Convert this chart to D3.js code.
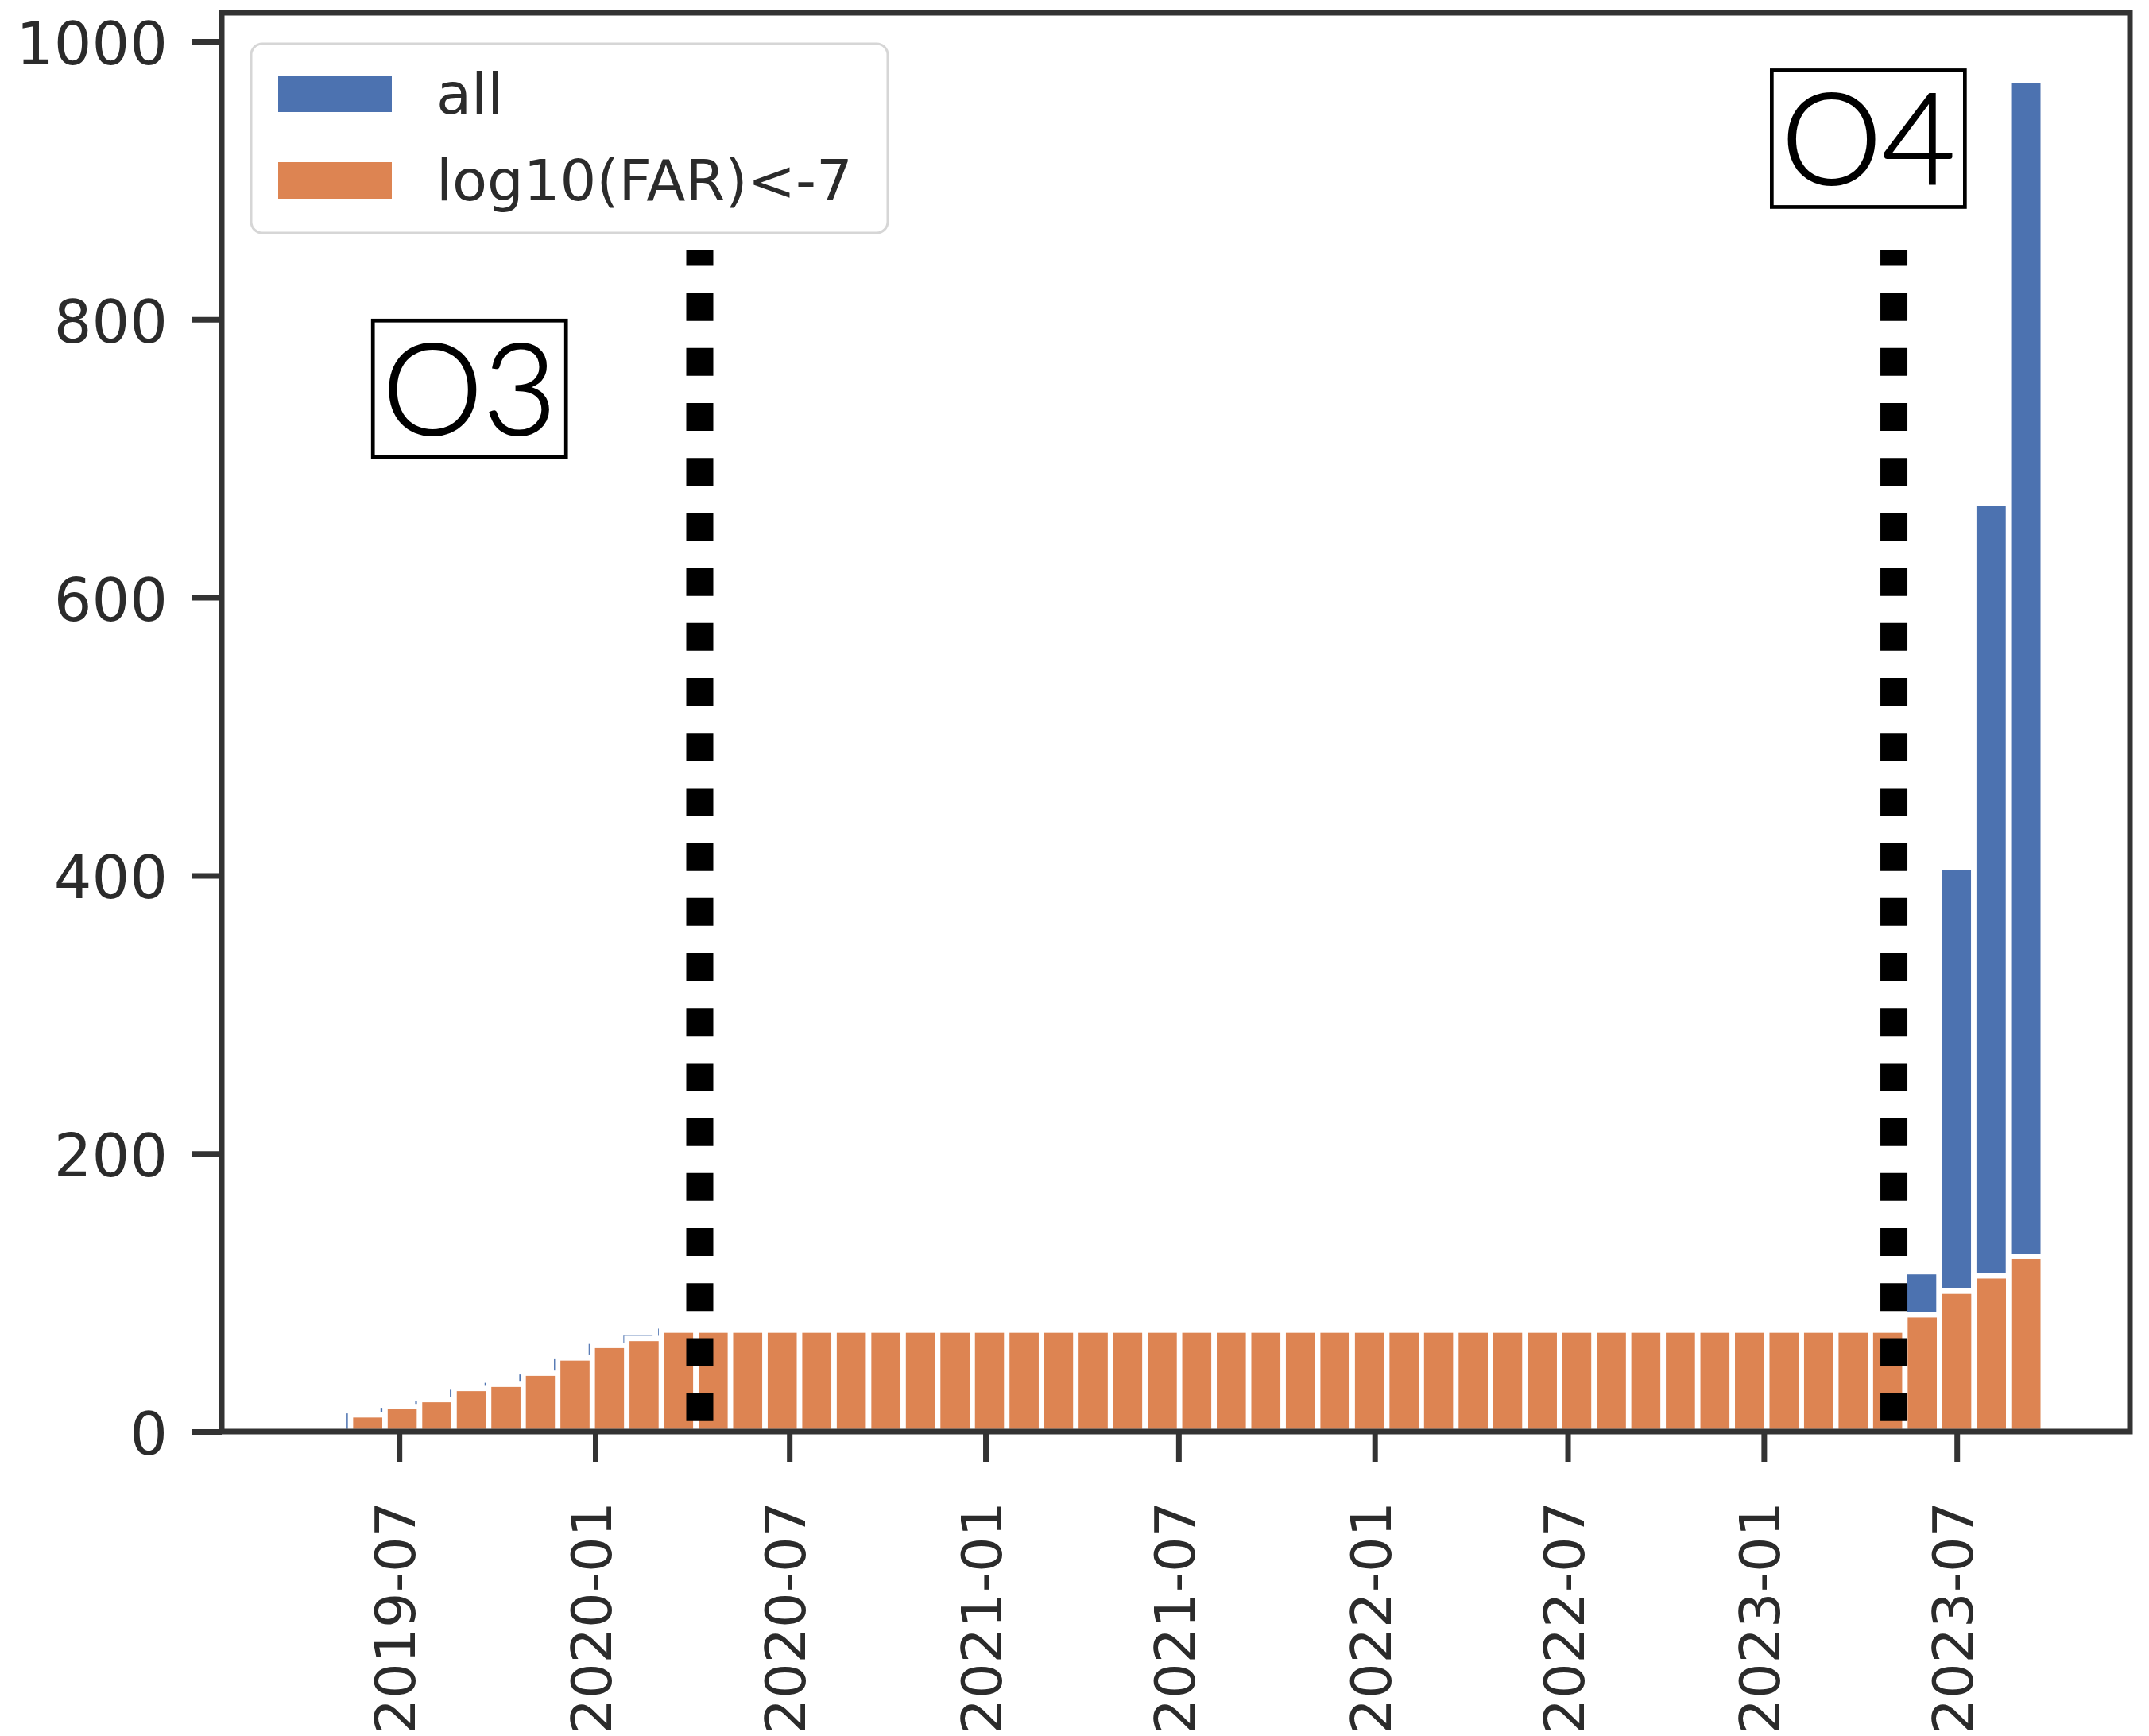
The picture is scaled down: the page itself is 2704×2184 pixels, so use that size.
<!DOCTYPE html>
<html>
<head>
<meta charset="utf-8">
<script src="https://cdn.jsdelivr.net/npm/d3@7"></script>
<style>
    body { margin: 0; background: #fff; }
    svg { display: block; }
</style>
</head>
<body>
<svg width="2704" height="2184"></svg>
<script>
// cumulative event counts, 50 bins each
var seriesNames = ['all', 'log10(FAR)<-7'];
var allRange = ['2019-04-07', '2023-09-20'];
var farRange = ['2019-04-14', '2023-09-20'];
var allCounts = [0, 15, 19, 24, 32, 37, 43, 54, 65, 71,
    76, 76, 76, 76, 76, 76, 76, 76, 76, 76,
    76, 76, 76, 76, 76, 76, 76, 76, 76, 76,
    76, 76, 76, 76, 76, 76, 76, 76, 76, 76,
    76, 76, 76, 76, 76, 76, 115, 406, 668, 972];
var farCounts = [0, 12, 18, 23, 31, 34, 42, 53, 62, 67,
    73, 73, 73, 73, 73, 73, 73, 73, 73, 73,
    73, 73, 73, 73, 73, 73, 73, 73, 73, 73,
    73, 73, 73, 73, 73, 73, 73, 73, 73, 73,
    73, 73, 73, 73, 73, 73, 84, 101, 112, 126];
var yTicks = [0, 200, 400, 600, 800, 1000];
var runBounds = ['2020-04-08', '2023-05-03'];
var runLabels = [
    {text: 'O3', date: '2019-09-05', value: 750},
    {text: 'O4', date: '2023-04-09', value: 930}
];
var runLineTop = 850;

(() => {
    var width = 2704;
    var height = 2184;
    var margin = {top: 16, bottom: 383, left: 279, right: 24};
    var colors = ['#4c72b0', '#dd8452'];
    var ink = '#2b2b2b';
    var tickFont = 'DejaVu Sans';

    var parse = d3.timeParse('%Y-%m-%d');

    function makeBins(range, counts) {
        var t0 = parse(range[0]).getTime();
        var t1 = parse(range[1]).getTime();
        var n = counts.length;
        return counts.map(function (c, i) {
            return {
                x0: new Date(t0 + (t1 - t0) * i / n),
                x1: new Date(t0 + (t1 - t0) * (i + 1) / n),
                value: c
            };
        });
    }
    var series = [makeBins(allRange, allCounts), makeBins(farRange, farCounts)];

    //scales (matplotlib-like 5% margin on x, 5% headroom on y)
    var lo = d3.min([parse(allRange[0]), parse(farRange[0])]);
    var hi = d3.max([parse(allRange[1]), parse(farRange[1])]);
    var pad = (hi - lo) * 0.05;
    var xScale = d3.scaleTime()
        .domain([new Date(+lo - pad), new Date(+hi + pad)])
        .range([margin.left, width - margin.right]);
    var yMax = d3.max(allCounts.concat(farCounts)) * 1.05;
    var yScale = d3.scaleLinear()
        .domain([0, yMax])
        .range([height - margin.bottom, margin.top]);

    var svg = d3.select('svg');

    //bars, "all" behind
    series.forEach(function (bins, k) {
        svg.append('g')
            .selectAll('rect')
            .data(bins)
            .enter().append('rect')
            .attr('x', d => xScale(d.x0))
            .attr('width', d => xScale(d.x1) - xScale(d.x0))
            .attr('y', d => yScale(d.value))
            .attr('height', d => yScale(0) - yScale(d.value))
            .attr('fill', colors[k])
            .attr('stroke', '#fff')
            .attr('stroke-width', 6.7);
    });

    //observing run boundaries
    svg.append('g')
        .selectAll('line')
        .data(runBounds)
        .enter().append('line')
        .attr('x1', d => xScale(parse(d)))
        .attr('x2', d => xScale(parse(d)))
        .attr('y1', yScale(runLineTop))
        .attr('y2', yScale(0))
        .attr('stroke', '#000')
        .attr('stroke-width', 34)
        .attr('stroke-dasharray', '35 34.2')
        .attr('stroke-dashoffset', 14.9);

    //run labels in boxes
    var boxW = 243, boxH = 172;
    var lab = svg.append('g')
        .selectAll('g')
        .data(runLabels)
        .enter().append('g')
        .attr('transform', d => 'translate(' + [xScale(parse(d.date)), yScale(d.value)] + ')');
    lab.append('rect')
        .attr('x', -boxW / 2)
        .attr('y', -boxH / 2)
        .attr('width', boxW)
        .attr('height', boxH)
        .attr('fill', '#fff')
        .attr('stroke', '#000')
        .attr('stroke-width', 4.7);
    lab.append('text')
        .attr('text-anchor', 'middle')
        .attr('y', 58)
        .attr('font-family', 'Lato, "Noto Sans", sans-serif')
        .attr('font-weight', 300)
        .attr('font-size', 160)
        .attr('fill', '#000')
        .attr('stroke', '#000')
        .attr('stroke-width', 2)
        .text(d => d.text);

    //axes
    var xAxis = d3.axisBottom(xScale)
        .ticks(d3.timeMonth.every(6))
        .tickFormat(d3.timeFormat('%Y-%m'))
        .tickSize(38);
    var yAxis = d3.axisLeft(yScale)
        .tickValues(yTicks)
        .tickFormat(d3.format('d'))
        .tickSize(38)
        .tickPadding(30);

    var gx = svg.append('g')
        .attr('transform', 'translate(' + [0, yScale(0)] + ')')
        .call(xAxis);
    gx.select('.domain').remove();
    gx.selectAll('line').attr('stroke', '#333').attr('stroke-width', 7);
    gx.selectAll('text')
        .attr('transform', 'rotate(-90)')
        .attr('text-anchor', 'end')
        .attr('x', -88)
        .attr('y', 0)
        .attr('dy', '0.28em')
        .attr('font-family', tickFont)
        .attr('font-size', 70)
        .attr('fill', ink);

    var gy = svg.append('g')
        .attr('transform', 'translate(' + [margin.left, 0] + ')')
        .call(yAxis);
    gy.select('.domain').remove();
    gy.selectAll('line').attr('stroke', '#333').attr('stroke-width', 7);
    gy.selectAll('text')
        .attr('dy', '0.38em')
        .attr('font-family', tickFont)
        .attr('font-size', 75)
        .attr('fill', ink);

    //frame
    svg.append('rect')
        .attr('x', margin.left)
        .attr('y', margin.top)
        .attr('width', width - margin.right - margin.left)
        .attr('height', yScale(0) - margin.top)
        .attr('fill', 'none')
        .attr('stroke', '#333')
        .attr('stroke-width', 7);

    //legend
    var legend = svg.append('g').attr('transform', 'translate(316,55)');
    legend.append('rect')
        .attr('width', 801)
        .attr('height', 238)
        .attr('rx', 14)
        .attr('fill', '#fff')
        .attr('fill-opacity', 0.8)
        .attr('stroke', '#d6d6d6')
        .attr('stroke-width', 3);
    var item = legend.selectAll('.item')
        .data(seriesNames)
        .enter().append('g')
        .attr('class', 'item')
        .attr('transform', (d, i) => 'translate(0,' + (63 + i * 109) + ')');
    item.append('rect')
        .attr('x', 34)
        .attr('y', -23)
        .attr('width', 143)
        .attr('height', 46)
        .attr('fill', (d, i) => colors[i]);
    item.append('text')
        .attr('x', 233)
        .attr('dy', '0.35em')
        .attr('font-family', tickFont)
        .attr('font-size', 72)
        .attr('fill', ink)
        .text(d => d);
})();
</script>
</body>
</html>
